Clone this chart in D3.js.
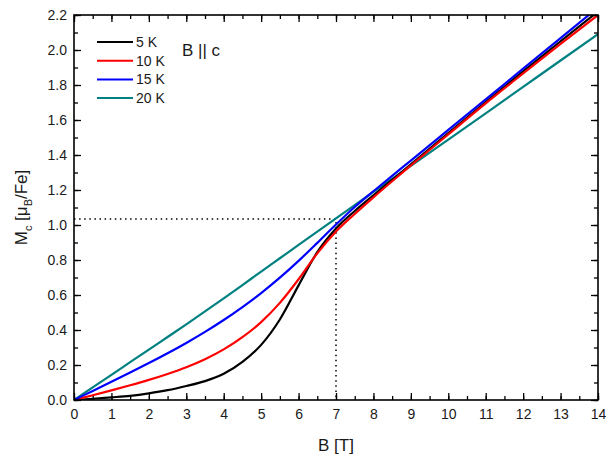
<!DOCTYPE html>
<html>
<head>
<meta charset="utf-8">
<script src="https://cdn.jsdelivr.net/npm/d3@7"></script>
<style>
  body { margin: 0; background: #fff; }
  text { font-family: "Liberation Sans", Arial, sans-serif; fill: #1a1a1a; }
</style>
</head>
<body>
<div id="chart"></div>
<script>
const fieldB = [0, 0.5, 1, 1.5, 2, 2.5, 3, 3.5, 4, 4.5, 5, 5.5, 6, 6.5, 7, 7.5, 8, 8.5, 9, 10, 11, 12, 13, 14];
const m5K  = [0, 0.007, 0.015, 0.024, 0.038, 0.056, 0.08, 0.108, 0.15, 0.218, 0.315, 0.46, 0.655, 0.845, 0.98, 1.08, 1.17, 1.258, 1.346, 1.525, 1.703, 1.878, 2.05, 2.22];
const m10K = [0, 0.027, 0.055, 0.084, 0.115, 0.149, 0.187, 0.233, 0.289, 0.359, 0.445, 0.555, 0.69, 0.838, 0.963, 1.063, 1.158, 1.25, 1.34, 1.518, 1.695, 1.866, 2.035, 2.2];
const m15K = [0, 0.052, 0.104, 0.157, 0.211, 0.267, 0.326, 0.389, 0.457, 0.531, 0.611, 0.699, 0.795, 0.898, 1.003, 1.103, 1.193, 1.281, 1.368, 1.543, 1.718, 1.893, 2.068, 2.243];
const m20K = [0, 0.072, 0.144, 0.216, 0.288, 0.36, 0.432, 0.506, 0.581, 0.657, 0.734, 0.81, 0.886, 0.962, 1.038, 1.114, 1.19, 1.264, 1.338, 1.488, 1.638, 1.789, 1.94, 2.09];
const seriesNames = ["5 K", "10 K", "15 K", "20 K"];
const seriesColors = ["#000000", "#ff0000", "#0000ff", "#008080"];
const xTicks = d3.range(0, 15, 1);
const yTicks = d3.range(0, 2.21, 0.2);
const markB = 7, markM = 1.035;

const width = 606, height = 457;
const margin = {left: 74, right: 8, top: 15, bottom: 57};

const svg = d3.select("#chart").append("svg")
    .attr("width", width).attr("height", height);

const x = d3.scaleLinear().domain([0, 14]).range([margin.left, width - margin.right]);
const y = d3.scaleLinear().domain([0, 2.2]).range([height - margin.bottom, margin.top]);

svg.append("defs").append("clipPath").attr("id", "plot")
    .append("rect")
    .attr("x", x(0)).attr("y", y(2.2))
    .attr("width", x(14) - x(0)).attr("height", y(0) - y(2.2));

// dotted guide at 7 T
svg.append("path")
    .attr("d", `M${x(0)},${y(markM)}H${x(markB)}V${y(0)}`)
    .attr("fill", "none")
    .attr("stroke", "#000")
    .attr("stroke-width", 1.5)
    .attr("stroke-dasharray", "1.5,3.6");

const allSeries = [m5K, m10K, m15K, m20K];
const line = d3.line()
    .x((d, i) => x(fieldB[i]))
    .y(d => y(d))
    .curve(d3.curveMonotoneX);

const curves = svg.append("g").attr("clip-path", "url(#plot)");
// draw 20 K first so the colder curves sit on top
[3, 0, 1, 2].forEach(k => {
    curves.append("path")
        .attr("d", line(allSeries[k]))
        .attr("fill", "none")
        .attr("stroke", seriesColors[k])
        .attr("stroke-width", 2.2);
});

// axes, ticks pointing inward
const xMinor = d3.range(0, 14.01, 0.5);
const yMinor = d3.range(0, 2.201, 0.1);

svg.append("g").attr("transform", `translate(0,${y(0)})`)
    .call(d3.axisBottom(x).tickValues(xMinor).tickSize(-4).tickFormat(""))
    .call(g => g.select(".domain").remove());
svg.append("g").attr("transform", `translate(0,${y(0)})`)
    .call(d3.axisBottom(x).tickValues(xTicks).tickSize(-7).tickFormat(d3.format("d")))
    .call(g => g.select(".domain").remove())
    .call(g => g.selectAll("text").attr("font-size", 14).attr("dy", "0.32em").attr("y", 15));
svg.append("g").attr("transform", `translate(0,${y(2.2)})`)
    .call(d3.axisTop(x).tickValues(xMinor).tickSize(-4).tickFormat(""))
    .call(g => g.select(".domain").remove());
svg.append("g").attr("transform", `translate(0,${y(2.2)})`)
    .call(d3.axisTop(x).tickValues(xTicks).tickSize(-7).tickFormat(""))
    .call(g => g.select(".domain").remove());

svg.append("g").attr("transform", `translate(${x(0)},0)`)
    .call(d3.axisLeft(y).tickValues(yMinor).tickSize(-4).tickFormat(""))
    .call(g => g.select(".domain").remove());
svg.append("g").attr("transform", `translate(${x(0)},0)`)
    .call(d3.axisLeft(y).tickValues(yTicks).tickSize(-7).tickFormat(d3.format(".1f")))
    .call(g => g.select(".domain").remove())
    .call(g => g.selectAll("text").attr("font-size", 14).attr("x", -7));
svg.append("g").attr("transform", `translate(${x(14)},0)`)
    .call(d3.axisRight(y).tickValues(yMinor).tickSize(-4).tickFormat(""))
    .call(g => g.select(".domain").remove());
svg.append("g").attr("transform", `translate(${x(14)},0)`)
    .call(d3.axisRight(y).tickValues(yTicks).tickSize(-7).tickFormat(""))
    .call(g => g.select(".domain").remove());

svg.selectAll(".tick line").attr("stroke", "#000").attr("stroke-width", 1.3);

svg.append("rect")
    .attr("x", x(0)).attr("y", y(2.2))
    .attr("width", x(14) - x(0)).attr("height", y(0) - y(2.2))
    .attr("fill", "none").attr("stroke", "#000").attr("stroke-width", 1.6);

// legend
const legend = svg.append("g");
seriesNames.forEach((name, i) => {
    const ly = 42 + i * 18.7;
    legend.append("line")
        .attr("x1", 97).attr("x2", 133).attr("y1", ly).attr("y2", ly)
        .attr("stroke", seriesColors[i]).attr("stroke-width", 2);
    legend.append("text")
        .attr("x", 136).attr("y", ly).attr("dy", "0.35em")
        .attr("font-size", 14).text(name);
});

svg.append("text")
    .attr("x", 182).attr("y", 50).attr("dy", "0.35em")
    .attr("font-size", 17).text("B || c");

// axis titles
svg.append("text")
    .attr("x", (x(0) + x(14)) / 2).attr("y", 445).attr("dy", "0.35em")
    .attr("text-anchor", "middle").attr("font-size", 17).text("B [T]");

const yt = svg.append("text")
    .attr("transform", `translate(27,${(y(0) + y(2.2)) / 2}) rotate(-90)`)
    .attr("text-anchor", "middle").attr("font-size", 17);
yt.append("tspan").text("M");
yt.append("tspan").attr("font-size", 11).attr("dy", 5).text("c");
yt.append("tspan").attr("dy", -5).text(" [\u03bc");
yt.append("tspan").attr("font-size", 11).attr("dy", 5).text("B");
yt.append("tspan").attr("dy", -5).text("/Fe]");
</script>
</body>
</html>
